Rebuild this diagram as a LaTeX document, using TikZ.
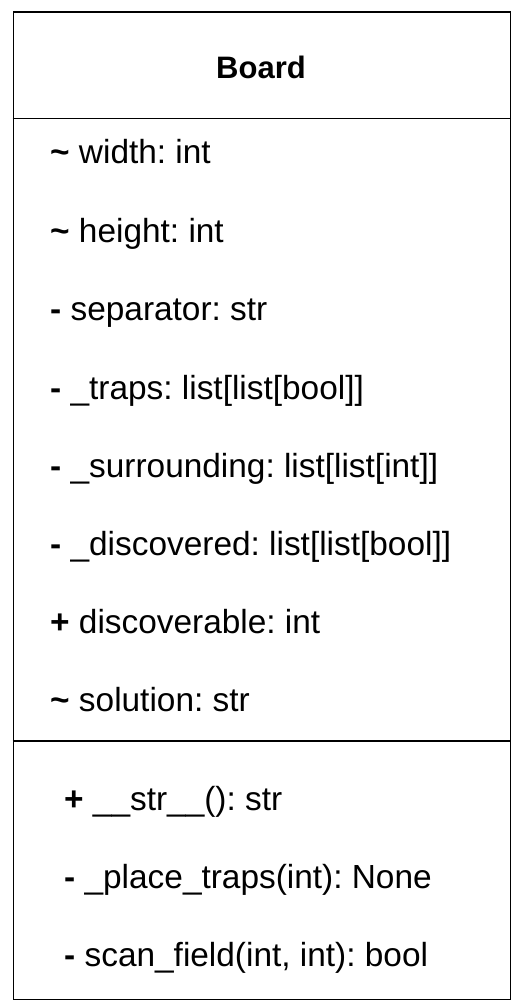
\documentclass[tikz,border=0pt]{standalone}
\usepackage{fontspec}
\setmainfont{Liberation Sans}
\frenchspacing
\begin{document}
\begin{tikzpicture}[x=1pt,y=-1pt,
  member/.style={anchor=base west,inner sep=0pt,font=\fontsize{33.4}{36}\selectfont},
  title/.style={inner sep=0pt,anchor=base,font=\fontsize{31}{36}\selectfont\bfseries},
  frame/.style={draw=black,line width=1.2pt}]
\useasboundingbox[fill=white] (0,0) rectangle (520,1008);
\node[frame,draw,minimum width=497pt,minimum height=987pt,anchor=north west,inner sep=0pt] (cls) at (12.5,11.5) {};
\coordinate (d1l) at (12.5,118.5);
\coordinate (d1r) at (509.5,118.5);
\coordinate (d2l) at (12.5,741);
\coordinate (d2r) at (509.5,741);
\draw[frame] (d1l) -- (d1r);
\draw[frame] (d2l) -- (d2r);
\node[title] (name) at (261,79) {Board};
\node[member] (a1) at (50,164) {\textbf{\char`\~} width: int};
\node[member] (a2) at (50,242) {\textbf{\char`\~} height: int};
\node[member] (a3) at (50,320.5) {\textbf{-} separator: str};
\node[member] (a4) at (50,399) {\textbf{-} \_traps: list[list[bool]]};
\node[member] (a5) at (50,477) {\textbf{-} \_surrounding: list[list[int]]};
\node[member] (a6) at (50,555.5) {\textbf{-} \_discovered: list[list[bool]]};
\node[member] (a7) at (50,633.5) {\textbf{+} discoverable: int};
\node[member] (a8) at (50,711.5) {\textbf{\char`\~} solution: str};
\node[member] (m1) at (64,810) {\textbf{+} \_\_str\_\_(): str};
\node[member] (m2) at (64,888) {\textbf{-} \_place\_traps(int): None};
\node[member] (m3) at (64,966) {\textbf{-} scan\_field(int, int): bool};
\end{tikzpicture}
\end{document}
